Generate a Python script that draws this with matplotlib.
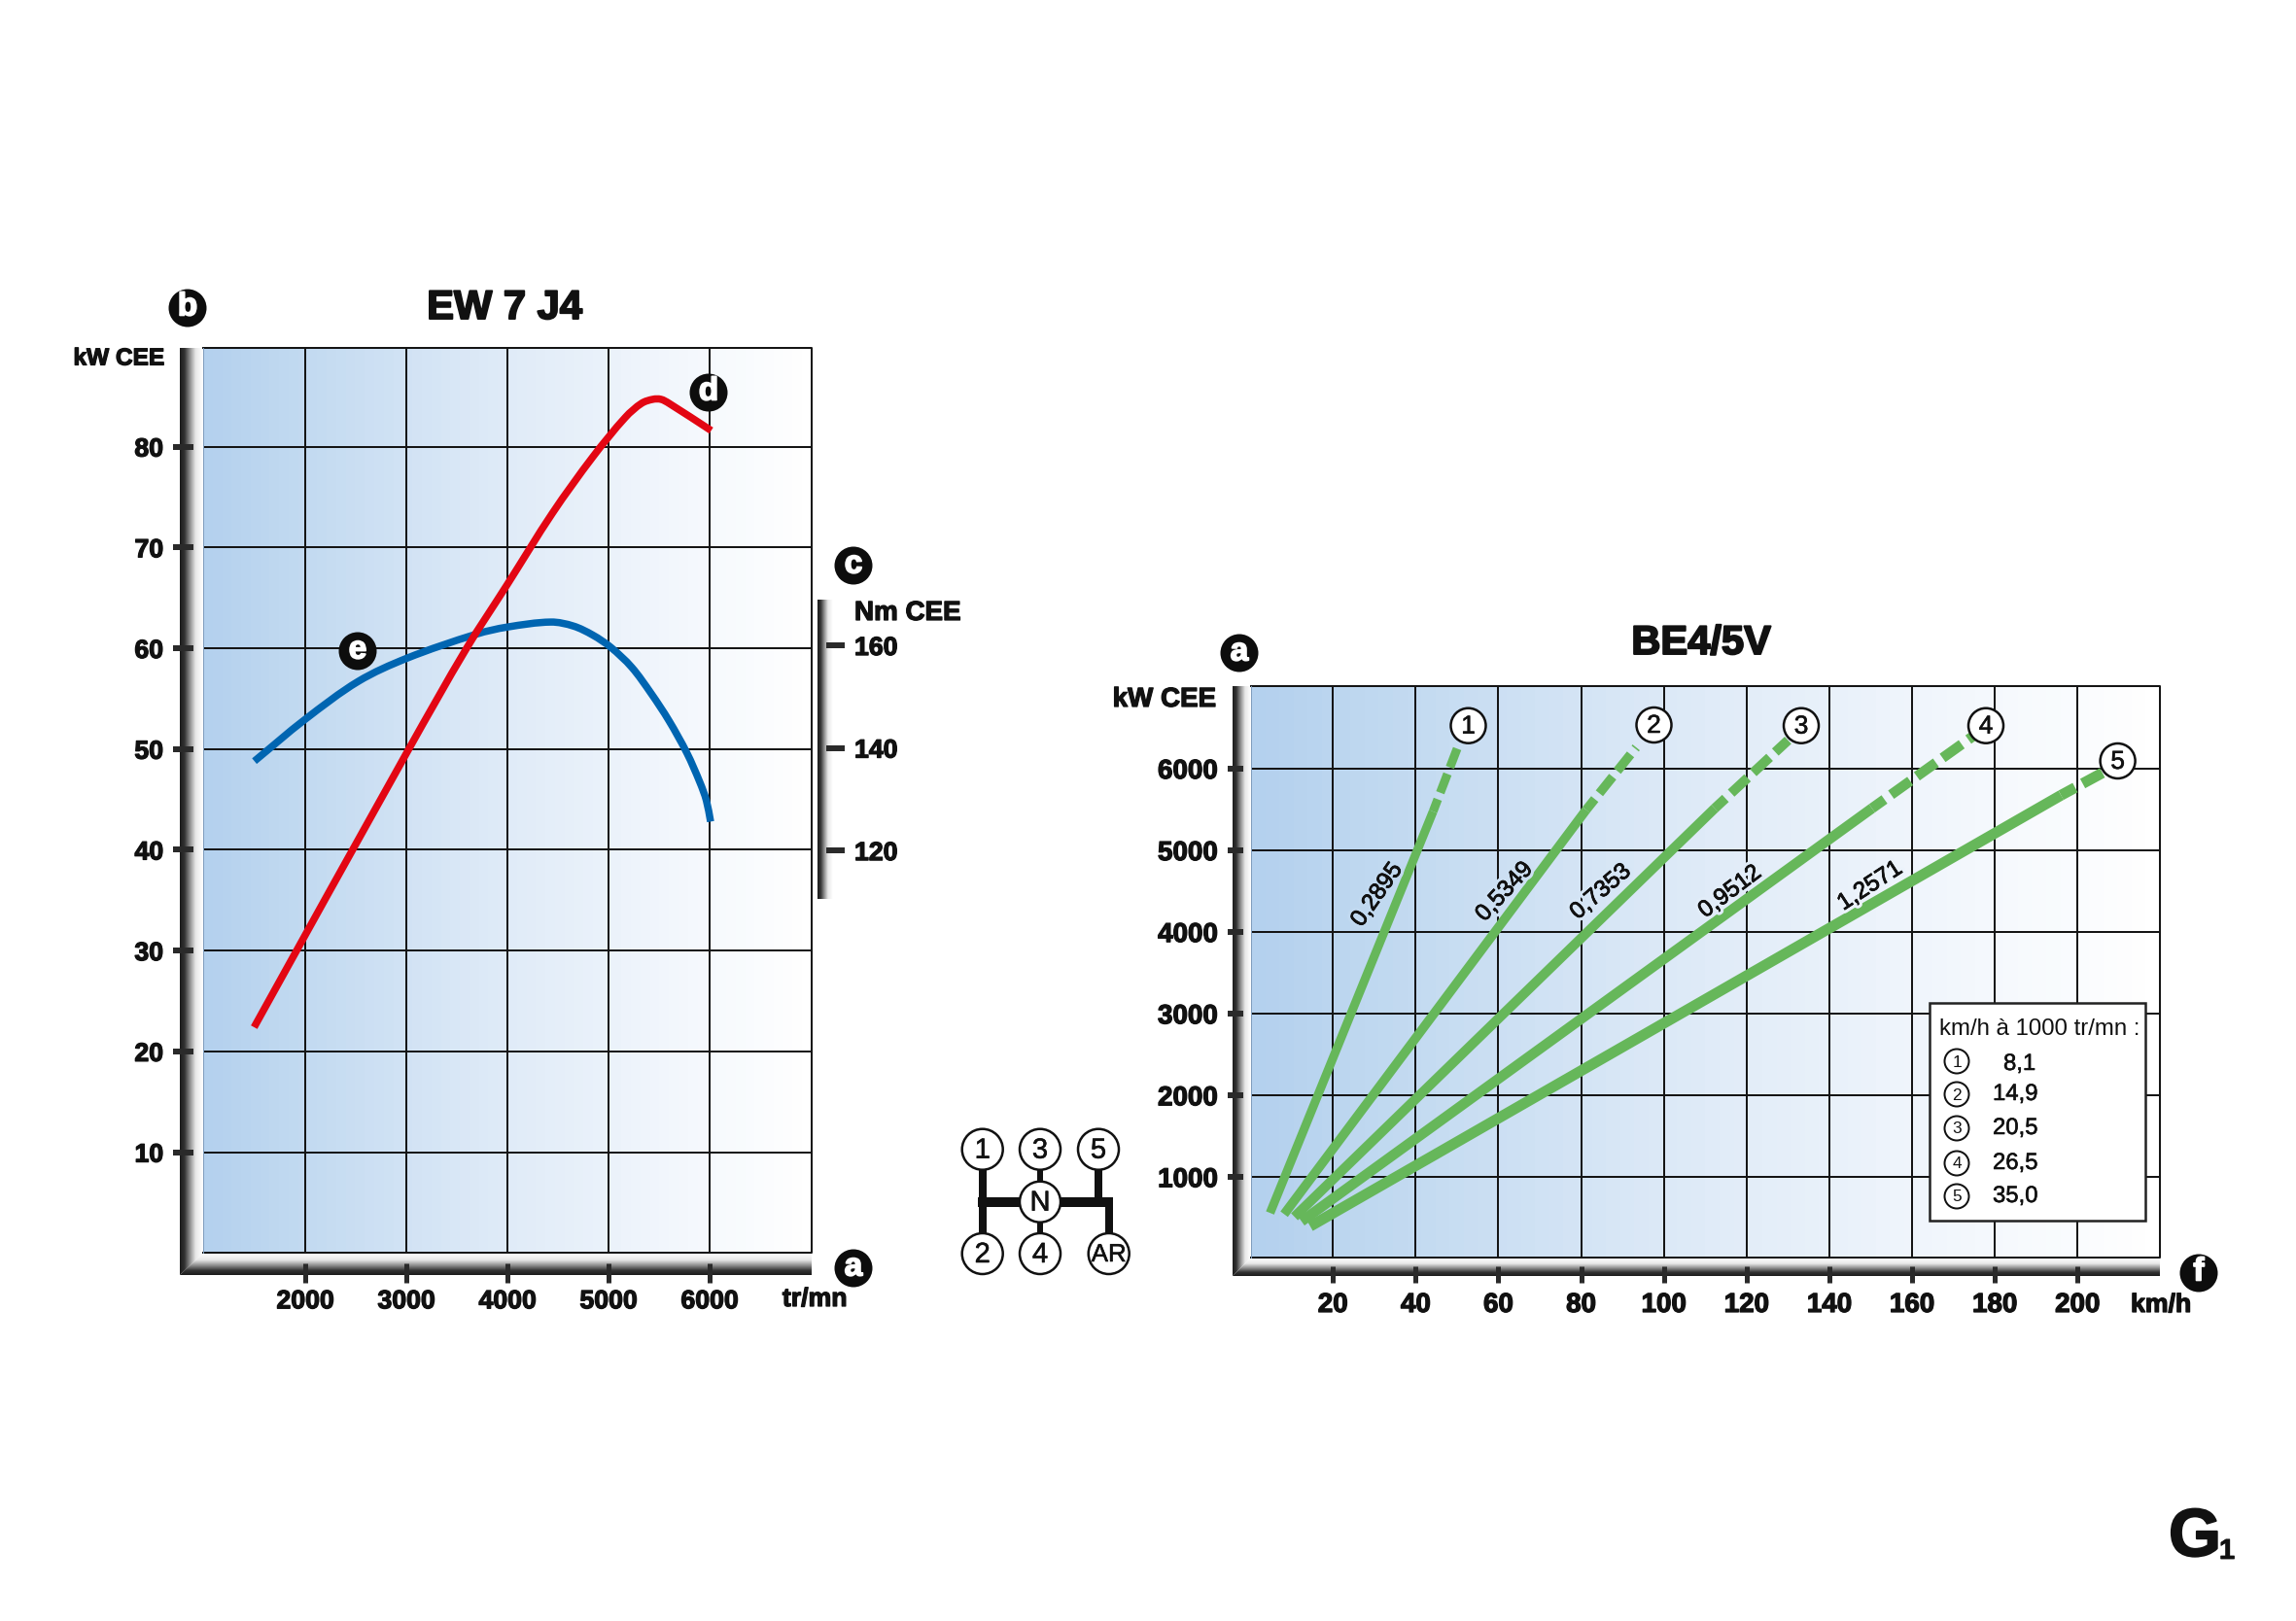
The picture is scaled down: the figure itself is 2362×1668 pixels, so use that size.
import numpy as np
import matplotlib
matplotlib.use("Agg")
import matplotlib.pyplot as plt
import matplotlib.patheffects as pe
from matplotlib.colors import LinearSegmentedColormap
from matplotlib.patches import Circle, Rectangle, Polygon, PathPatch
from matplotlib.path import Path

W, H = 2362, 1668
DPI = 200
plt.rcParams['font.family'] = ['Liberation Sans', 'DejaVu Sans']

# ---------- data ----------
rpm_ticks = [2000, 3000, 4000, 5000, 6000]
kw_ticks = [10, 20, 30, 40, 50, 60, 70, 80]
nm_ticks = [120, 140, 160]

red_rpm = [1494, 3019, 3596, 3997, 4445, 4846, 5166, 5327, 5439, 5519, 5599, 6016]
red_kw = [22.4, 49.9, 60.0, 66.3, 73.4, 79.0, 82.9, 84.3, 84.7, 84.7, 84.3, 81.6]
blue_rpm = [1497, 1993, 2522, 3003, 3692, 3997, 4430, 4654, 4846, 5022, 5231, 5423, 5599, 5776, 5904, 5968, 6010]
blue_kw = [48.8, 52.9, 56.7, 59.0, 61.4, 62.1, 62.6, 62.2, 61.3, 60.1, 58.1, 55.5, 52.8, 49.6, 46.7, 44.9, 42.8]

speed_ticks = [20, 40, 60, 80, 100, 120, 140, 160, 180, 200]
rev_ticks = [1000, 2000, 3000, 4000, 5000, 6000]

g1_v = [4.8, 44.2]; g1_r = [563, 5477]; g1_dv = [44.2, 50.5]; g1_dr = [5477, 6310]
g2_v = [8.2, 81.2]; g2_r = [548, 5497]; g2_dv = [81.2, 93.3]; g2_dr = [5497, 6262]
g3_v = [10.7, 112.3]; g3_r = [516, 5516]; g3_dv = [112.3, 130]; g3_dr = [5516, 6349]
g4_v = [12.4, 150.3]; g4_r = [460, 5516]; g4_dv = [150.3, 175]; g4_dr = [5516, 6409]
g5_v = [14.5, 196]; g5_r = [400, 5676]; g5_dv = [196, 206]; g5_dr = [5676, 5950]
gears = [(g1_v, g1_r, g1_dv, g1_dr), (g2_v, g2_r, g2_dv, g2_dr), (g3_v, g3_r, g3_dv, g3_dr),
         (g4_v, g4_r, g4_dv, g4_dr), (g5_v, g5_r, g5_dv, g5_dr)]
ratio_labels = ['0,2895', '0,5349', '0,7353', '0,9512', '1,2571']
kmh_values = ['8,1', '14,9', '20,5', '26,5', '35,0']

RED, BLUE, GREEN = '#E30613', '#0065B1', '#66B75A'
BOLD = dict(fontweight='bold', color='#111111')
gear_widths = [9, 9.5, 10, 10.5, 11]


def px(v):
    """pixels to points"""
    return v * 72 / DPI


def thick(w=0.45, c='#111111'):
    return [pe.withStroke(linewidth=w, foreground=c)]


def make_axes(x0, x1, y0, y1, **kw):
    return fig.add_axes([x0 / W, 1 - y1 / H, (x1 - x0) / W, (y1 - y0) / H], **kw)


def smooth_curve(a, xs, ys, color, lw, zorder):
    """Draw a Bezier curve through the read points (Catmull-Rom tangents)."""
    p = np.column_stack([xs, ys]).astype(float)
    tan = np.gradient(p, axis=0)
    verts = [p[0]]
    codes = [Path.MOVETO]
    for i in range(len(p) - 1):
        dx = p[i + 1] - p[i]
        t0 = tan[i] * np.linalg.norm(dx / [600, 9]) / max(np.linalg.norm(tan[i] / [600, 9]), 1e-9)
        t1 = tan[i + 1] * np.linalg.norm(dx / [600, 9]) / max(np.linalg.norm(tan[i + 1] / [600, 9]), 1e-9)
        verts += [p[i] + t0 / 3, p[i + 1] - t1 / 3, p[i + 1]]
        codes += [Path.CURVE4] * 3
    a.add_patch(PathPatch(Path(verts, codes), fill=False, ec=color, lw=px(lw), capstyle='butt',
                          joinstyle='round', zorder=zorder))


fig = plt.figure(figsize=(W / DPI, H / DPI), dpi=DPI, facecolor='white')

# pixel-coordinate layers for decoration
back = make_axes(0, W, 0, H, zorder=0)
front = make_axes(0, W, 0, H, zorder=5)
for a in (back, front):
    a.set_xlim(0, W); a.set_ylim(H, 0); a.axis('off'); a.patch.set_alpha(0)

steel = LinearSegmentedColormap.from_list('steel', [(0, '#1c1c1c'), (0.2, '#333333'), (0.42, '#8a8a8a'),
                                                    (0.68, '#e8e8e8'), (1, '#ffffff')])
bg = LinearSegmentedColormap.from_list('bg', [(0, '#B4D1EE'), (0.12, '#BFD8F0'), (0.45, '#DCE9F7'),
                                              (0.8, '#F4F8FD'), (1, '#FFFFFF')])
hgrad = np.linspace(0, 1, 64).reshape(1, -1)
vgrad = np.linspace(1, 0, 64).reshape(-1, 1)


def steel_bars(lx0, lx1, ytop, bx1, by0, by1):
    im1 = back.imshow(hgrad, cmap=steel, extent=(lx0, lx1, by1, ytop), aspect='auto', zorder=1)
    im1.set_clip_path(Polygon([(lx0, ytop), (lx1, ytop), (lx1, by0), (lx0, by1)], transform=back.transData))
    im2 = back.imshow(vgrad, cmap=steel, extent=(lx0, bx1, by1, by0), aspect='auto', zorder=2)
    im2.set_clip_path(Polygon([(lx0, by1), (lx1, by0), (bx1, by0), (bx1, by1)], transform=back.transData))
    back.set_xlim(0, W); back.set_ylim(H, 0)


def style_chart(a, out_l, len_l, out_b, len_b, pad_b):
    a.imshow(hgrad, cmap=bg, extent=(0, 1, 0, 1), transform=a.transAxes, aspect='auto', zorder=0)
    a.grid(True, color='#151515', lw=px(2), zorder=1)
    a.set_axisbelow(True)
    for s in a.spines.values():
        s.set_visible(False)
    a.spines['left'].set_position(('outward', px(out_l)))
    a.spines['bottom'].set_position(('outward', px(out_b)))
    a.plot([0, 1, 1, 0], [1, 1, 0, 0], transform=a.transAxes, color='#151515', lw=px(2), clip_on=False, zorder=2)
    a.plot([0, 0], [0, 1], transform=a.transAxes, color='#7f9dbd', lw=px(1), clip_on=False, zorder=2)
    a.tick_params(axis='y', length=px(len_l), width=px(6), color='#2a2a2a', pad=px(10))
    a.tick_params(axis='x', length=px(len_b), width=px(5), color='#2a2a2a', pad=px(pad_b))
    for lab in a.get_xticklabels() + a.get_yticklabels():
        lab.set_fontweight('bold'); lab.set_color('#111111'); lab.set_path_effects(thick())


# ---------- left chart ----------
steel_bars(185, 209, 358, 835, 1289.3, 1312)
ax = make_axes(209, 835, 358, 1289.3, zorder=2)
ax.set_xlim(990, 7010); ax.set_ylim(0, 89.8)
ax.set_xticks(rpm_ticks); ax.set_yticks(kw_ticks)
ax.tick_params(labelsize=9.6)
style_chart(ax, 10, 21, 11, 20, 6)
smooth_curve(ax, blue_rpm, blue_kw, BLUE, 7.5, 3)
smooth_curve(ax, red_rpm, red_kw, RED, 7.5, 4)

# torque axis
back.imshow(hgrad, cmap=steel, extent=(841, 857, 925, 618), aspect='auto', zorder=1)
back.set_xlim(0, W); back.set_ylim(H, 0)
nm = ax.twinx()
nm.set_ylim(41.5, 218)
nm.set_yticks(nm_ticks)
for s in nm.spines.values():
    s.set_visible(False)
nm.spines['right'].set_position(('outward', px(15)))
nm.tick_params(axis='y', length=px(19), width=px(6), color='#2a2a2a', pad=px(10), labelsize=9.6)
for lab in nm.get_yticklabels():
    lab.set_fontweight('bold'); lab.set_color('#111111'); lab.set_path_effects(thick())

# ---------- right chart ----------
steel_bars(1268, 1287, 706, 2222, 1294, 1313)
ax2 = make_axes(1287, 2222, 706, 1294, zorder=2)
ax2.set_xlim(0.2, 219.9); ax2.set_ylim(17, 7012)
ax2.set_xticks(speed_ticks); ax2.set_yticks(rev_ticks)
ax2.tick_params(labelsize=10)
style_chart(ax2, 8, 16, 9, 17, 10)
for (vs, rs, dvs, drs), lw in zip(gears, gear_widths):
    ax2.plot(vs, rs, color=GREEN, lw=px(lw), solid_capstyle='butt', solid_joinstyle='round', zorder=3)
    ax2.plot(dvs, drs, color=GREEN, lw=px(lw), ls=(0.8, (2.3, 0.8)), dash_capstyle='butt', zorder=3)

# ---------- texts ----------
def t(x, y, s, size=9.6, ha='center', va='center', rot=0, layer=front, stroke=0.45, **kw):
    style = dict(BOLD); style.update(kw)
    o = layer.text(x, y, s, fontsize=size, ha=ha, va=va, rotation=rot, rotation_mode='anchor', **style)
    if stroke:
        o.set_path_effects(thick(stroke))
    return o


t(519, 317, 'EW 7 J4', size=15, stroke=0.7)
t(1750, 662, 'BE4/5V', size=15, stroke=0.7)
t(169, 369, 'kW CEE', size=8.8, ha='right')
t(879, 631, 'Nm CEE', size=10, ha='left')
t(838, 1337, 'tr/mn', size=9.6)
t(1251, 720, 'kW CEE', size=10, ha='right')
t(2223, 1343, 'km/h', size=9.6)

# lettered black discs
for x, y, s in [(193, 317, 'b'), (729, 404, 'd'), (368, 670, 'e'), (878, 582, 'c'),
                (878, 1305, 'a'), (1275, 672, 'a'), (2262, 1310, 'f')]:
    front.add_patch(Circle((x, y), 19.5, fc='#0d0d0d', ec='none', zorder=6))
    t(x, y - 1, s, size=12, color='white', stroke=0.5, zorder=7).set_path_effects(thick(0.6, 'white'))


def ring(x, y, r, s, size, lw=2.5, stroke=0.2):
    front.add_patch(Circle((x, y), r, fc='white', ec='#111111', lw=px(lw), zorder=8))
    t(x, y + 1, s, size=size, stroke=stroke, fontweight='normal', zorder=9)


# gear number circles on the chart
for x, y, s in [(1510.5, 746.7, '1'), (1701.5, 746, '2'), (1853, 746.7, '3'), (2043, 746.7, '4'), (2178.6, 783, '5')]:
    ring(x, y, 18, s, 9.5)

# ratio labels, with the grid knocked out behind them as in the original
for (x, y, rot), s in zip([(1417, 921, 55), (1548, 918, 47), (1647, 918, 41),
                           (1780, 918, 37), (1924, 912, 33)], ratio_labels):
    halo = bg((x - 1287) / 935)
    o = t(x, y, s, size=8.7, rot=rot, stroke=0, fontweight='normal')
    o.set_path_effects([pe.withStroke(linewidth=2.6, foreground=halo),
                        pe.withStroke(linewidth=0.3, foreground='#111111')])

# legend box
front.add_patch(Rectangle((1985, 1032), 222, 224, fc='white', ec='#222222', lw=px(2.5), zorder=6))
t(1995, 1059, 'km/h à 1000 tr/mn :', size=8.65, ha='left', stroke=0, fontweight='normal', zorder=7)
for i, (y, s) in enumerate(zip([1092, 1126, 1161, 1197, 1231], kmh_values)):
    ring(2013, y, 12.5, str(i + 1), 6.2, lw=2, stroke=0)
    t(2061 if i == 0 else 2050, y + (3 if i == 0 else 0), s, size=8.6, ha='left', stroke=0.2, fontweight='normal', zorder=7)

# gear-shift pattern
for x0, y0, x1, y1, w in [(1010.7, 1183, 1010.7, 1290, 8), (1070, 1183, 1070, 1290, 6), (1130, 1183, 1130, 1240, 8),
                          (1006, 1236.7, 1145, 1236.7, 10), (1141, 1232, 1141, 1290, 8)]:
    front.plot([x0, x1], [y0, y1], color='#111111', lw=px(w), solid_capstyle='butt', zorder=6)
for x, y, s in [(1010.7, 1182.7, '1'), (1070, 1182.7, '3'), (1130, 1182.7, '5'), (1070, 1236.7, 'N'),
                (1010.7, 1290, '2'), (1070, 1290, '4')]:
    ring(x, y, 21, s, 10.5)
ring(1140.7, 1290, 21, 'AR', 9.3)

# page mark
t(2258, 1583, 'G', size=25, stroke=0.7)
t(2291, 1596, '1', size=10.5, stroke=0.3)

fig.savefig('out.png', dpi=DPI, facecolor='white')
